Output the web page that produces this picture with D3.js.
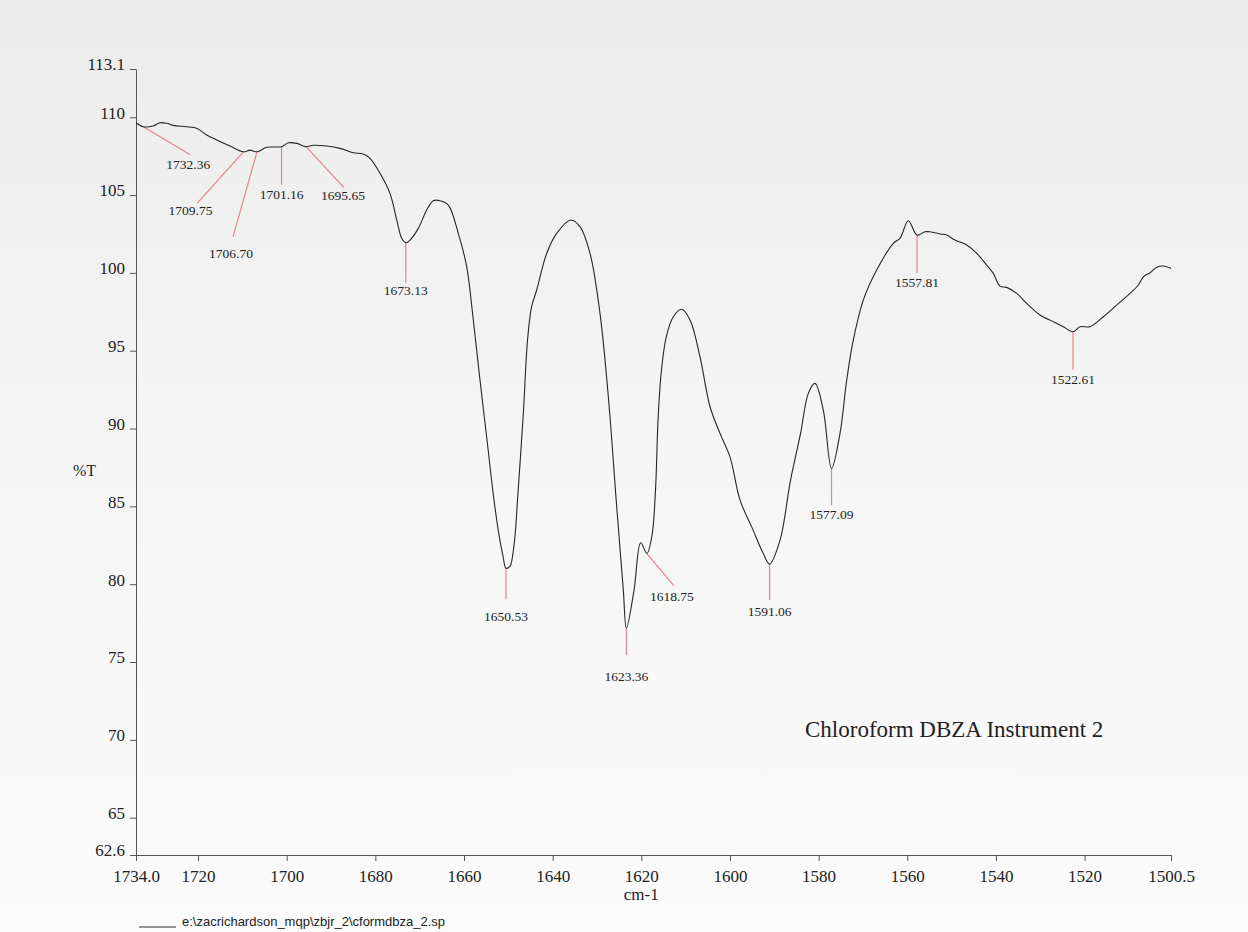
<!DOCTYPE html>
<html lang="en">
<head>
    <meta charset="UTF-8">
    <title>Chloroform DBZA Instrument 2</title>
    <script src="https://d3js.org/d3.v7.min.js"></script>
    <style>
        body { margin: 0; background: #f6f6f6; }
        svg { display: block; }
        .axis path, .axis line { stroke: #555; }
        .peak-label { font-family: "Liberation Serif", serif; font-size: 13.5px; fill: #222; }
        .peak-line { stroke: #e5858a; stroke-width: 1.2; }
        .trace { fill: none; stroke: #262626; stroke-width: 1.1; }
    </style>
</head>
<body>
    <svg width="1248" height="932"></svg>
    <script>
        // spectrum trace (cm-1, %T)
        const wavenumbers = [
            1734.0, 1732.36, 1730.10, 1728.59, 1727.07, 1725.58, 1722.56, 1720.31, 1718.05, 1715.79,
            1712.79, 1709.75, 1708.28, 1706.70, 1704.51, 1701.16, 1699.64, 1697.74, 1695.65, 1694.00,
            1690.98, 1687.98, 1684.98, 1682.72, 1681.21, 1678.95, 1676.70, 1675.18, 1674.05, 1673.13,
            1672.18, 1670.31, 1668.42, 1666.93, 1665.42, 1663.54, 1661.29, 1659.39, 1657.90,
            1656.39, 1654.81, 1653.23, 1652.10, 1651.20, 1650.53, 1649.62, 1648.95, 1648.38, 1647.93,
            1646.62, 1645.67, 1644.77, 1643.60, 1641.34, 1639.09, 1635.93, 1633.83, 1631.57, 1629.32,
            1627.44, 1625.55, 1624.06, 1623.36, 1621.64, 1620.13, 1618.75, 1617.58, 1616.80, 1616.23,
            1615.56, 1614.43, 1612.78, 1610.89,
            1609.01, 1606.76, 1604.50, 1602.25, 1599.99, 1597.73, 1595.09, 1592.48, 1591.06, 1588.70,
            1586.33, 1584.07, 1582.32, 1580.81, 1578.94, 1577.09, 1575.17, 1573.66, 1572.18, 1569.92,
            1566.90, 1563.15, 1561.64, 1559.76, 1557.81, 1556.00, 1554.87, 1552.61, 1551.10, 1549.23,
            1546.59, 1544.33, 1542.08, 1540.59, 1539.08, 1537.56, 1535.31, 1533.05, 1530.05, 1527.05,
            1524.80, 1522.61, 1521.03, 1518.78, 1515.77, 1512.75, 1509.75, 1507.87, 1506.74, 1505.23,
            1503.72, 1502.23, 1500.5
        ];
        const transmittance = [
            109.65, 109.39, 109.44, 109.65, 109.61, 109.48, 109.39, 109.29, 108.86, 108.54,
            108.15, 107.78, 107.89, 107.78, 108.07, 108.11, 108.36, 108.32, 108.11, 108.20,
            108.15, 108.00, 107.72, 107.64, 107.36, 106.40, 105.11, 103.40, 102.22, 101.94,
            102.11, 102.86, 104.04, 104.64, 104.64, 104.36, 102.54, 100.39, 96.97,
            93.11, 89.26, 85.40, 83.15, 81.80, 81.03, 81.16, 81.99, 83.47, 85.40,
            90.97, 95.68, 97.80, 98.90, 101.26, 102.54, 103.40, 102.97, 101.26, 97.40,
            92.04, 84.97, 79.62, 77.17, 79.62, 82.66, 81.97, 83.15, 86.04, 90.54,
            93.43, 95.81, 97.18, 97.66,
            96.97, 94.61, 91.40, 89.69, 88.18, 85.40, 83.68, 81.97, 81.29, 82.83,
            86.69, 89.69, 92.26, 92.90, 91.18, 87.44, 89.69, 93.11, 95.68, 98.25,
            100.18, 101.90, 102.22, 103.35, 102.43, 102.64, 102.64, 102.50, 102.43, 102.11,
            101.79, 101.26, 100.50, 99.97, 99.15, 99.07, 98.68, 98.04, 97.29, 96.86,
            96.54, 96.22, 96.54, 96.54, 97.18, 97.93, 98.68, 99.22, 99.75, 100.01,
            100.36, 100.44, 100.29
        ];

        // picked peaks
        const peakWn = [1732.36, 1709.75, 1706.70, 1701.16, 1695.65, 1673.13, 1650.53,
                        1623.36, 1618.75, 1591.06, 1577.09, 1557.81, 1522.61];
        const peakT = [109.39, 107.78, 107.78, 108.11, 108.11, 101.94, 81.03,
                       77.17, 81.97, 81.29, 87.44, 102.43, 96.22];
        const peakText = ["1732.36", "1709.75", "1706.70", "1701.16", "1695.65", "1673.13", "1650.53",
                          "1623.36", "1618.75", "1591.06", "1577.09", "1557.81", "1522.61"];

        const yTicks = [113.1, 110, 105, 100, 95, 90, 85, 80, 75, 70, 65, 62.6];
        const xTicks = [1734.0, 1720, 1700, 1680, 1660, 1640, 1620, 1600, 1580, 1560, 1540, 1520, 1500.5];

        // label leader offsets in px: [line dx, line dy, text dx, text baseline dy]
        const leader = [
            [47, 28, 45, 42], [-46, 51, -53, 63], [-24, 85, -26, 106], [0, 38, 0, 52],
            [38, 41, 37, 53], [0, 40, 0, 52], [0, 31, 0, 53], [0, 27, 0, 53],
            [27, 32, 25, 47], [0, 36, 0, 52], [0, 37, 0, 51], [0, 38, 0, 52], [0, 38, 0, 52]
        ];

        const serif = "'Liberation Serif', 'Times New Roman', serif";
        const svg = d3.select("svg");

        const grad = svg.append("defs").append("linearGradient")
            .attr("id", "paper").attr("x1", 0).attr("y1", 0).attr("x2", 0).attr("y2", 1);
        grad.append("stop").attr("offset", "0%").attr("stop-color", "#ebebeb");
        grad.append("stop").attr("offset", "45%").attr("stop-color", "#f5f5f5");
        grad.append("stop").attr("offset", "100%").attr("stop-color", "#fbfbfb");
        svg.append("rect").attr("width", 1248).attr("height", 932).attr("fill", "url(#paper)");

        const x = d3.scaleLinear().domain([1734.0, 1500.5]).range([136, 1171]);
        const y = d3.scaleLinear().domain([62.6, 113.1]).range([855, 69]);

        const xAxis = svg.append("g")
            .attr("class", "axis")
            .attr("transform", `translate(0,${y(62.6)})`)
            .call(d3.axisBottom(x)
                .tickValues(xTicks)
                .tickSize(6).tickSizeOuter(0).tickPadding(9)
                .tickFormat(d => (d === 1734.0 || d === 1500.5) ? d.toFixed(1) : d));

        const yAxis = svg.append("g")
            .attr("class", "axis")
            .attr("transform", `translate(${x(1734.0)},0)`)
            .call(d3.axisLeft(y)
                .tickValues(yTicks)
                .tickSize(6).tickSizeOuter(0).tickPadding(5)
                .tickFormat(d => d));
        yAxis.selectAll("text").attr("dy", "0.05em");

        [xAxis, yAxis].forEach(g => {
            g.attr("font-family", serif).attr("font-size", 17);
            g.selectAll("text").attr("fill", "#222");
        });

        svg.append("text")
            .attr("x", 73).attr("y", 476)
            .attr("font-family", serif).attr("font-size", 16).attr("fill", "#222")
            .text("%T");

        svg.append("text")
            .attr("x", x(1620)).attr("y", 900)
            .attr("text-anchor", "middle")
            .attr("font-family", serif).attr("font-size", 17).attr("fill", "#222")
            .text("cm-1");

        const pts = wavenumbers.map((w, i) => [w, transmittance[i]]);
        const line = d3.line()
            .x(d => x(d[0]))
            .y(d => y(d[1]))
            .curve(d3.curveCatmullRom.alpha(0.5));

        // peak leaders
        const peaks = peakWn.map((w, i) => ({ w: w, t: peakT[i], label: peakText[i], off: leader[i] }));
        const pg = svg.append("g");
        pg.selectAll("line")
            .data(peaks)
            .join("line")
            .attr("class", "peak-line")
            .attr("x1", d => x(d.w))
            .attr("y1", d => y(d.t))
            .attr("x2", d => x(d.w) + d.off[0])
            .attr("y2", d => y(d.t) + d.off[1]);
        pg.selectAll("text")
            .data(peaks)
            .join("text")
            .attr("class", "peak-label")
            .attr("text-anchor", "middle")
            .attr("x", d => x(d.w) + d.off[2])
            .attr("y", d => y(d.t) + d.off[3])
            .text(d => d.label);

        svg.append("path")
            .datum(pts)
            .attr("class", "trace")
            .attr("d", line);

        svg.append("text")
            .attr("x", 805).attr("y", 737)
            .attr("font-family", serif).attr("font-size", 23).attr("fill", "#222")
            .text("Chloroform DBZA Instrument 2");

        svg.append("line")
            .attr("x1", 139).attr("x2", 176).attr("y1", 927).attr("y2", 927)
            .attr("stroke", "#333").attr("stroke-width", 1);
        svg.append("text")
            .attr("x", 182).attr("y", 926)
            .attr("font-family", "'Liberation Sans', Arial, sans-serif").attr("font-size", 13).attr("fill", "#222")
            .text("e:\\zacrichardson_mqp\\zbjr_2\\cformdbza_2.sp");
    </script>
</body>
</html>
